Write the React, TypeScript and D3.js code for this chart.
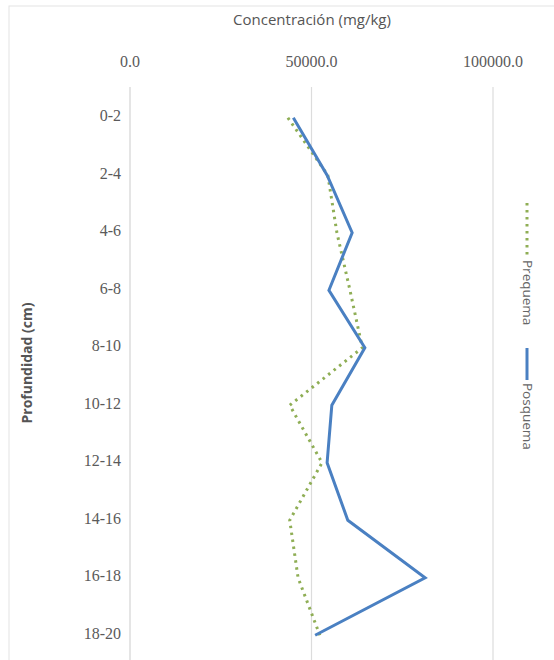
import React from "react";
import * as d3 from "d3";

const categories = ["0-2", "2-4", "4-6", "6-8", "8-10", "10-12", "12-14", "14-16", "16-18", "18-20"];
const prequema = [43500, 54500, 57000, 60600, 64000, 44000, 52900, 44000, 46300, 52300];
const posquema = [45000, 54300, 61200, 54800, 64700, 55600, 54300, 60000, 81300, 51000];
const xTicks = [0, 50000, 100000];
const xTitle = "Concentración (mg/kg)";
const yTitle = "Profundidad (cm)";
const seriesNames = ["Prequema", "Posquema"];

const W = 554;
const H = 660;
const left = 130;
const right = 493;
const top = 89;
const bottom = 664;

export default function App() {
  const x = d3.scaleLinear().domain([0, 100000]).range([left, right]);
  const y = d3.scaleBand().domain(categories).range([top, bottom]);
  const cy = (c: string) => (y(c) as number) + y.bandwidth() / 2;
  const line = d3
    .line<number>()
    .x((d) => x(d))
    .y((_, i) => cy(categories[i]));

  const blue = "#4a80c2";
  const green = "#8fae55";
  const serif = "'Liberation Serif', 'DejaVu Serif', serif";
  const sans = "'Open Sans', 'Liberation Sans', sans-serif";

  return (
    <svg
      width={W}
      height={H}
      style={{ position: "absolute", left: 0, top: 0, background: "#fff" }}
    >
      <rect x={9} y={6} width={560} height={720} fill="#fff" stroke="#e3e3e3" />
      {xTicks.map((t) => (
        <line
          key={"g" + t}
          x1={x(t)}
          x2={x(t)}
          y1={top - 2}
          y2={H}
          stroke={t === 0 ? "#d4d4d4" : "#dcdcdc"}
          strokeWidth={1.2}
        />
      ))}
      {xTicks.map((t) => (
        <text
          key={"t" + t}
          x={x(t)}
          y={63}
          textAnchor="middle"
          dominantBaseline="middle"
          fontFamily={serif}
          fontSize={16}
          fill="#5a5a5a"
        >
          {d3.format(".1f")(t)}
        </text>
      ))}
      {categories.map((c) => (
        <text
          key={c}
          x={121}
          y={cy(c)}
          textAnchor="end"
          dominantBaseline="middle"
          fontFamily={serif}
          fontSize={16}
          fill="#5a5a5a"
        >
          {c}
        </text>
      ))}
      <text
        x={312}
        y={21}
        textAnchor="middle"
        dominantBaseline="middle"
        fontFamily={sans}
        fontSize={15}
        fill="#555"
      >
        {xTitle}
      </text>
      <text
        transform={`translate(28, ${363}) rotate(-90)`}
        textAnchor="middle"
        dominantBaseline="middle"
        fontFamily={sans}
        fontSize={14}
        fontWeight="bold"
        fill="#555"
      >
        {yTitle}
      </text>
      <path
        d={line(prequema) || ""}
        fill="none"
        stroke={green}
        strokeWidth={3}
        strokeDasharray="2.5,4.5"
      />
      <path
        d={line(posquema) || ""}
        fill="none"
        stroke={blue}
        strokeWidth={3}
        strokeLinejoin="miter"
      />
      {/* legend */}
      <line x1={527} x2={527} y1={203} y2={257} stroke={green} strokeWidth={3} strokeDasharray="2.5,4.5" />
      <text
        transform={`translate(527, 260) rotate(90)`}
        textAnchor="start"
        dominantBaseline="middle"
        fontFamily={sans}
        fontSize={13.5}
        fill="#666"
      >
        {seriesNames[0]}
      </text>
      <line x1={527} x2={527} y1={348} y2={380} stroke={blue} strokeWidth={3} />
      <text
        transform={`translate(527, 383) rotate(90)`}
        textAnchor="start"
        dominantBaseline="middle"
        fontFamily={sans}
        fontSize={13.5}
        fill="#666"
      >
        {seriesNames[1]}
      </text>
    </svg>
  );
}
